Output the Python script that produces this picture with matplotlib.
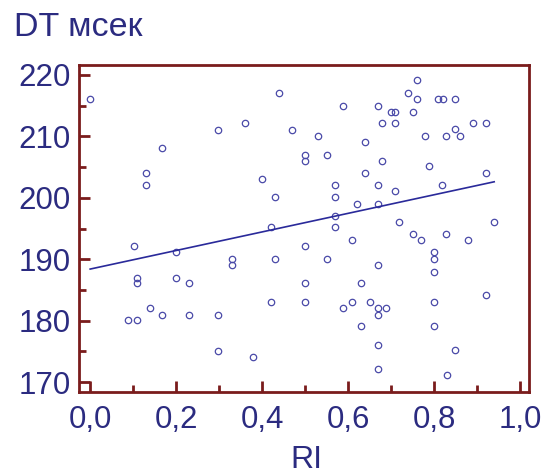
import matplotlib
matplotlib.use('Agg')
import matplotlib.pyplot as plt
from matplotlib.ticker import MultipleLocator, FuncFormatter

# RI vs DT (msec) scatter points
ri = [0.000, 0.298, 0.168, 0.129, 0.129,
      0.440, 0.589, 0.669, 0.360, 0.678, 0.470, 0.529, 0.640, 0.500, 0.500,
      0.550, 0.678, 0.399, 0.640, 0.570, 0.669, 0.429, 0.570, 0.621, 0.669,
      0.570, 0.420, 0.570,
      0.760, 0.739, 0.760, 0.810, 0.820, 0.849, 0.700, 0.709, 0.750, 0.709,
      0.890, 0.920, 0.849, 0.780, 0.829, 0.860, 0.789, 0.920, 0.709, 0.819,
      0.719, 0.940,
      0.101, 0.200, 0.330, 0.330, 0.109, 0.109, 0.200, 0.230, 0.140, 0.168,
      0.230, 0.298, 0.089, 0.109, 0.298,
      0.609, 0.500, 0.429, 0.550, 0.669, 0.500, 0.630, 0.420, 0.500, 0.609,
      0.650, 0.589, 0.669, 0.669, 0.688, 0.630, 0.669, 0.379, 0.669,
      0.750, 0.769, 0.829, 0.879, 0.799, 0.799, 0.799, 0.799, 0.920, 0.799,
      0.849, 0.830]
dt = [216.1, 211.0, 208.1, 204.0, 202.0,
      217.1, 215.0, 215.0, 212.1, 212.1, 211.0, 210.1, 209.1, 207.0, 206.0,
      207.0, 206.0, 203.1, 204.0, 202.0, 202.0, 200.1, 200.1, 199.0, 199.0,
      197.1, 195.2, 195.2,
      219.1, 217.1, 216.1, 216.1, 216.1, 216.1, 214.0, 214.0, 214.0, 212.1,
      212.1, 212.1, 211.2, 210.1, 210.1, 210.1, 205.1, 204.0, 201.1, 202.0,
      196.0, 196.0,
      192.1, 191.1, 190.0, 189.1, 187.0, 186.1, 187.0, 186.1, 182.0, 181.0,
      181.0, 181.0, 180.1, 180.1, 175.1,
      193.1, 192.1, 190.0, 190.0, 189.1, 186.1, 186.1, 183.1, 183.1, 183.1,
      183.1, 182.0, 182.0, 181.0, 182.0, 179.1, 176.1, 174.1, 172.1,
      194.1, 193.1, 194.1, 193.1, 191.1, 190.0, 188.0, 183.1, 184.1, 179.1,
      175.2, 171.1]

# regression line end points
fit_x = [0.0, 0.94]
fit_y = [188.4, 202.6]

x_ticks = [0.0, 0.2, 0.4, 0.6, 0.8, 1.0]
y_ticks = [170, 180, 190, 200, 210, 220]

navy = '#2B2B80'
frame = '#7A1C1C'
pts = '#4A4AA8'

plt.rcParams['font.family'] = ['Liberation Sans', 'DejaVu Sans']

fig = plt.figure(figsize=(5.52, 4.76), dpi=100)
ax = fig.add_axes([79 / 552, 1 - 392 / 476, 450 / 552, 327 / 476])

ax.plot(ri, dt, 'o', ms=4.6, mfc='none', mec=pts, mew=0.9)
ax.plot(fit_x, fit_y, color='#2A2A9A', lw=1.2)

ax.set_xlim(-0.026, 1.021)
ax.set_ylim(168.4, 221.6)
ax.set_xticks(x_ticks)
ax.set_yticks(y_ticks)
ax.xaxis.set_minor_locator(MultipleLocator(0.1))
ax.yaxis.set_minor_locator(MultipleLocator(5))
ax.xaxis.set_major_formatter(FuncFormatter(lambda v, p: ('%.1f' % v).replace('.', ',')))

for s in ax.spines.values():
    s.set_color(frame)
    s.set_linewidth(2)

ax.tick_params(which='both', direction='in', color=frame, width=2,
               labelsize=22.5, labelcolor=navy)
ax.tick_params(which='major', length=8)
ax.tick_params(which='minor', length=5)
ax.tick_params(axis='x', pad=9)
ax.tick_params(axis='y', pad=6)

fig.text(14 / 552, 1 - 36 / 476, 'DT мсек', fontsize=24.5, color=navy, va='baseline')
fig.text(306 / 552, 1 / 476, 'RI', fontsize=23, color=navy, ha='center', va='bottom')

fig.savefig('out.png', dpi=100)
